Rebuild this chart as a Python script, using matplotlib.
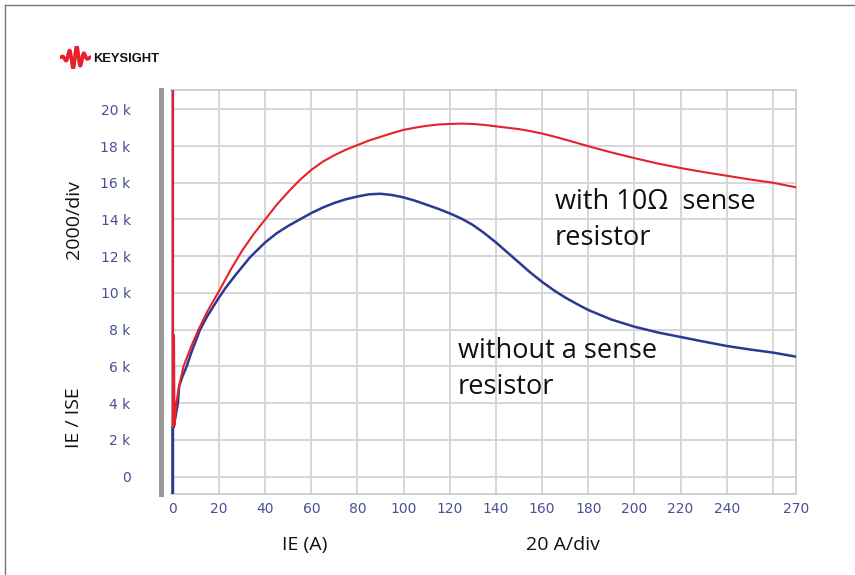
import numpy as np
import matplotlib.pyplot as plt
from matplotlib.lines import Line2D

# emitter current (A) vs gain readout
with_x = [0, 0, 0.5, 0.7, 1.5, 2.7, 4.6, 8, 11.1, 15, 20, 25, 30, 35, 40, 45, 50, 55,
          60, 65, 70, 75, 80, 85, 90, 95, 100, 105, 110, 115, 120, 125, 130, 135, 140,
          150, 155, 160, 165, 170, 180, 190, 200, 210, 220, 230, 240, 250, 260, 270]
with_y = [21500, 2700, 7700, 2800, 4000, 4900, 6000, 7100, 8000, 9000, 10100, 11250,
          12300, 13200, 14000, 14800, 15500, 16150, 16700, 17150, 17500, 17800, 18050,
          18300, 18500, 18700, 18880, 19000, 19100, 19170, 19200, 19220, 19200, 19150,
          19070, 18920, 18810, 18680, 18520, 18350, 17990, 17650, 17340, 17050, 16800,
          16580, 16380, 16180, 16000, 15750]

without_x = [0, 0, 0, 0.4, 1.2, 2.2, 2.7, 4, 6, 8, 11.8, 15, 20, 23, 27, 33.5, 40, 45,
             50, 55, 60, 65, 70, 75, 80, 85, 90, 95, 100, 105, 110, 115, 120, 125, 130,
             135, 140, 145, 150, 155, 160, 165, 170, 175, 180, 190, 200, 210, 220, 230,
             240, 250, 260, 270]
without_y = [21500, -1500, 2700, 2700, 3300, 4000, 4900, 5400, 6000, 6750, 8000, 8750,
             9750, 10300, 10950, 11950, 12750, 13250, 13650, 14000, 14350, 14650, 14900,
             15100, 15250, 15370, 15400, 15330, 15200, 15020, 14800, 14580, 14330, 14050,
             13700, 13250, 12750, 12200, 11650, 11100, 10600, 10150, 9750, 9400, 9070,
             8550, 8160, 7850, 7600, 7350, 7110, 6920, 6750, 6530]

y_ticks = list(range(0, 20001, 2000))
y_labels = ["0"] + [f"{v // 1000} k" for v in y_ticks[1:]]
x_grid = list(range(20, 261, 20))
x_ticks = list(range(0, 241, 20)) + [270]
x_labels = [str(v) for v in x_ticks]

RED = "#e8202a"
BLUE = "#2b3990"
TICK_COLOR = "#4a4f96"
GRID = "#d6d6d6"
W, H = 855, 575

fig = plt.figure(figsize=(W / 100, H / 100), dpi=100)
ax = fig.add_axes([171 / W, 1 - 494 / H, (796 - 171) / W, (494 - 90) / H])

ax.set_xlim(-0.8, 270)
ax.set_ylim(-950, 21050)

ax.hlines(y_ticks, 0, 270, color=GRID, lw=1.4, zorder=1)
ax.vlines(x_grid, -950, 21050, color=GRID, lw=1.4, zorder=1)

ax.plot(without_x, without_y, color=BLUE, lw=1.8, zorder=3)
ax.plot(with_x, with_y, color=RED, lw=1.5, zorder=4)

ax.set_yticks(y_ticks)
ax.set_yticklabels(y_labels, ha="center", fontsize=10)
ax.set_xticks(x_ticks)
ax.set_xticklabels(x_labels, fontsize=10)
ax.tick_params(axis="y", length=0, pad=22, labelcolor=TICK_COLOR)
ax.tick_params(axis="x", length=0, pad=6, labelcolor=TICK_COLOR)

for side in ["top", "right", "bottom"]:
    ax.spines[side].set_color("#c8c8c8")
    ax.spines[side].set_linewidth(1.2)
ax.spines["left"].set_position(("outward", 7))
ax.spines["left"].set_color("#999999")
ax.spines["left"].set_linewidth(3.6)

lab = dict(family="Open Sans", fontsize=14, color="#111111")
fig.text(74 / W, 1 - 418 / H, "IE / ISE", rotation=90, ha="center", va="center", **lab)
fig.text(74 / W, 1 - 220 / H, "2000/div", rotation=90, ha="center", va="center", **lab)
fig.text(305 / W, 1 - 545 / H, "IE (A)", ha="center", va="center", **lab)
fig.text(563 / W, 1 - 545 / H, "20 A/div", ha="center", va="center", **lab)

note = dict(family="Open Sans", fontsize=19.5, color="#111111", linespacing=1.4)
fig.text(555 / W, 1 - 245 / H, "with 10Ω  sense\nresistor", ha="left", va="baseline", **note)
fig.text(458 / W, 1 - 394 / H, "without a sense\nresistor", ha="left", va="baseline", **note)

# logo: small red wave + word mark
logo = fig.add_axes([60 / W, 1 - 69 / H, 31 / W, 23 / H])
t = np.linspace(-1, 1, 200)
logo.plot(t, np.exp(-3 * t ** 2) * np.sin(4 * np.pi * t + 0.5), color=RED, lw=2.6,
          solid_capstyle="round", solid_joinstyle="round")
logo.set_xlim(-1.05, 1.05)
logo.set_ylim(-1.0, 1.0)
logo.axis("off")
fig.text(93 / W, 1 - 58.5 / H, "KEYSIGHT", family="Liberation Sans", weight="bold",
         fontsize=9.3, color="#111111", ha="left", va="center")

# thin frame on the picture's top and left edges
fig.add_artist(Line2D([5 / W, 1], [1 - 5 / H, 1 - 5 / H], color="#777777", lw=1))
fig.add_artist(Line2D([5 / W, 5 / W], [0, 1 - 5 / H], color="#777777", lw=1))

fig.savefig("out.png", dpi=100)
